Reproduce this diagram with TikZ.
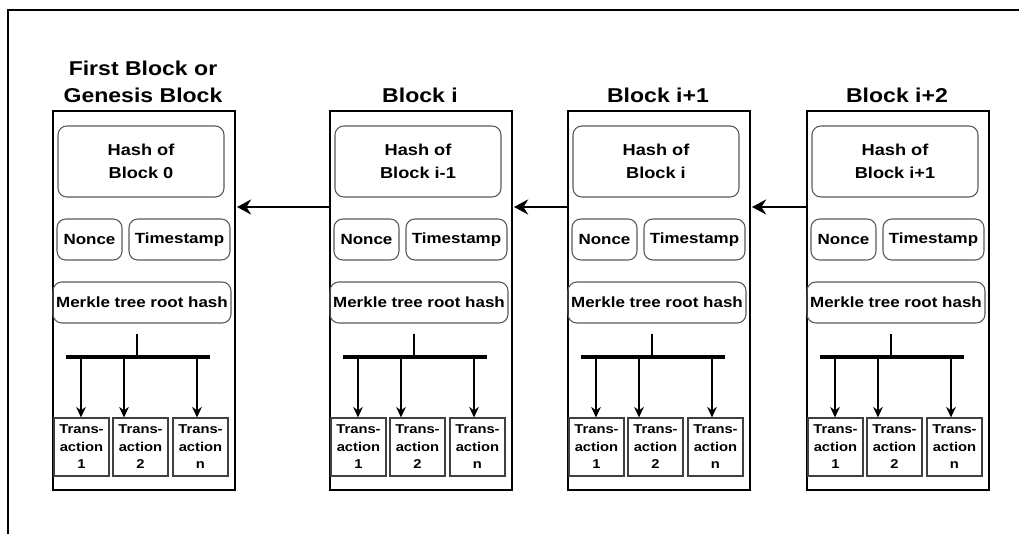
\documentclass[tikz,border=0pt]{standalone}
\usepackage{fontspec}
\setmainfont{Liberation Sans}[FakeStretch=1.15]
\usetikzlibrary{arrows.meta}

\begin{document}
\begin{tikzpicture}[x=0.02cm, y=-0.02cm, >={Stealth[length=6pt,width=5.5pt]},
  font=\bfseries\fontsize{8.4}{13}\selectfont,
  blk/.style={draw, line width=1.3pt, anchor=north west, inner sep=0pt,
    minimum width=3.64cm, minimum height=7.58cm},
  field/.style={draw=black!65, line width=0.6pt, rounded corners=5pt, align=center,
    inner sep=0pt, minimum height=0.82cm},
  tx/.style={draw=black!75, line width=0.6pt, align=center, inner sep=0pt,
    minimum width=1.1cm, minimum height=1.16cm, font=\bfseries\fontsize{7.3}{10}\selectfont},
  ttl/.style={align=center, anchor=south, inner sep=0pt, text depth=0pt,
    font=\bfseries\fontsize{11.4}{15.3}\selectfont},
  link/.style={line width=1.7pt, -{Stealth[length=8pt,width=8.5pt]}}]
\useasboundingbox (0,0) rectangle (1019,534);
\draw[line width=1.2pt] (1019,10) -- (8,10) -- (8,534);

\foreach \i/\bx/\hsh/\tl in {0/52/0/{First Block or\\Genesis Block}, 1/329/i-1/{Block i},
    2/567/i/{Block i+1}, 3/806/i+1/{Block i+2}} {
  \node[blk] (blk\i) at (\bx,110) {};
  \node[ttl] (ttl\i) at (\bx+91,103) {\tl};
  \node[field, minimum width=3.32cm, minimum height=1.42cm,
    font=\bfseries\fontsize{9}{13}\selectfont] (hash\i) at (\bx+89,161.5) {Hash of\\Block \hsh};
  \node[field, minimum width=1.3cm] (nonce\i) at (\bx+37.5,239.5) {Nonce};
  \node[field, minimum width=2.02cm] (time\i) at (\bx+127.5,239.5) {Timestamp};
  \node[field, minimum width=3.56cm] (mrk\i) at (\bx+90,302.5) {Merkle tree root hash};
  \coordinate (in\i) at (\bx+185,207);
  \coordinate (out\i) at (\bx,207);

  % tree down to the transactions
  \coordinate (stem\i) at (\bx+85,357);
  \draw[line width=0.9pt] (stem\i) -- ++(0,-23);
  \draw[line width=2pt] (\bx+14,357) -- (\bx+158,357);
  \foreach \k/\tx/\ax/\n/\lw in {1/29.5/29/1/0.9pt, 2/88.5/72/2/0.9pt, 3/148.5/145/n/1.2pt} {
    \node[tx] (t\k\i) at (\bx+\tx,447) {Trans-\\action\\\n};
    \coordinate (a\k\i) at (\bx+\ax,357);
    \draw[->, line width=\lw] (a\k\i) -- (a\k\i |- t\k\i.north);
  }
}

\draw[link] (out1) -- (in0);
\draw[link] (out2) -- (in1);
\draw[link] (out3) -- (in2);
\end{tikzpicture}
\end{document}
